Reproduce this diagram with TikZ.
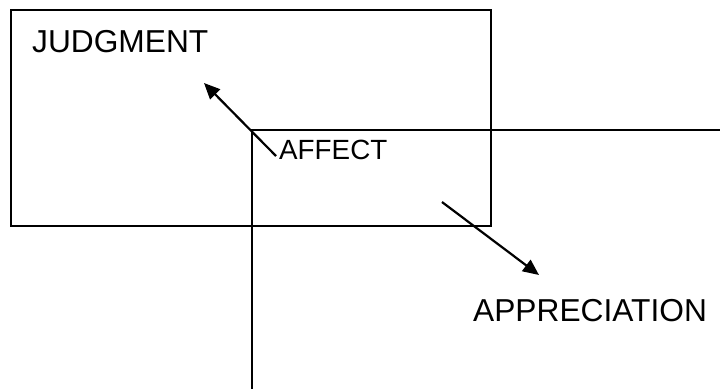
\documentclass[tikz,border=0pt]{standalone}
\usepackage{fontspec}
\setmainfont{Liberation Sans}
\usetikzlibrary{arrows.meta}

\begin{document}
\begin{tikzpicture}[x=1pt,y=-1pt,
  frame/.style={line width=1.6pt},
  pointer/.style={line width=2.2pt, -{Triangle[length=16pt,width=14pt]}},
  lbl/.style={anchor=base west, inner sep=0, font=\fontsize{31.7}{36}\selectfont}]
\useasboundingbox (0,0) rectangle (720,389);
% the judgment box and the open affect corner
\draw[frame] (11,10) rectangle (491,226);
\draw[frame] (720,130) -- (252,130) -- (252,389);
\node[lbl] (judgment) at (32,52) {JUDGMENT};
\node[lbl, font=\fontsize{27.8}{32}\selectfont] (affect) at (279,159) {AFFECT};
\node[lbl] (appreciation) at (473,321) {APPRECIATION};
\coordinate (A) at (276,156);
\coordinate (J) at (204,83);
\coordinate (B) at (442,202);
\coordinate (P) at (539,275);
\draw[pointer] (A) -- (J);
\draw[pointer] (B) -- (P);
\end{tikzpicture}
\end{document}
